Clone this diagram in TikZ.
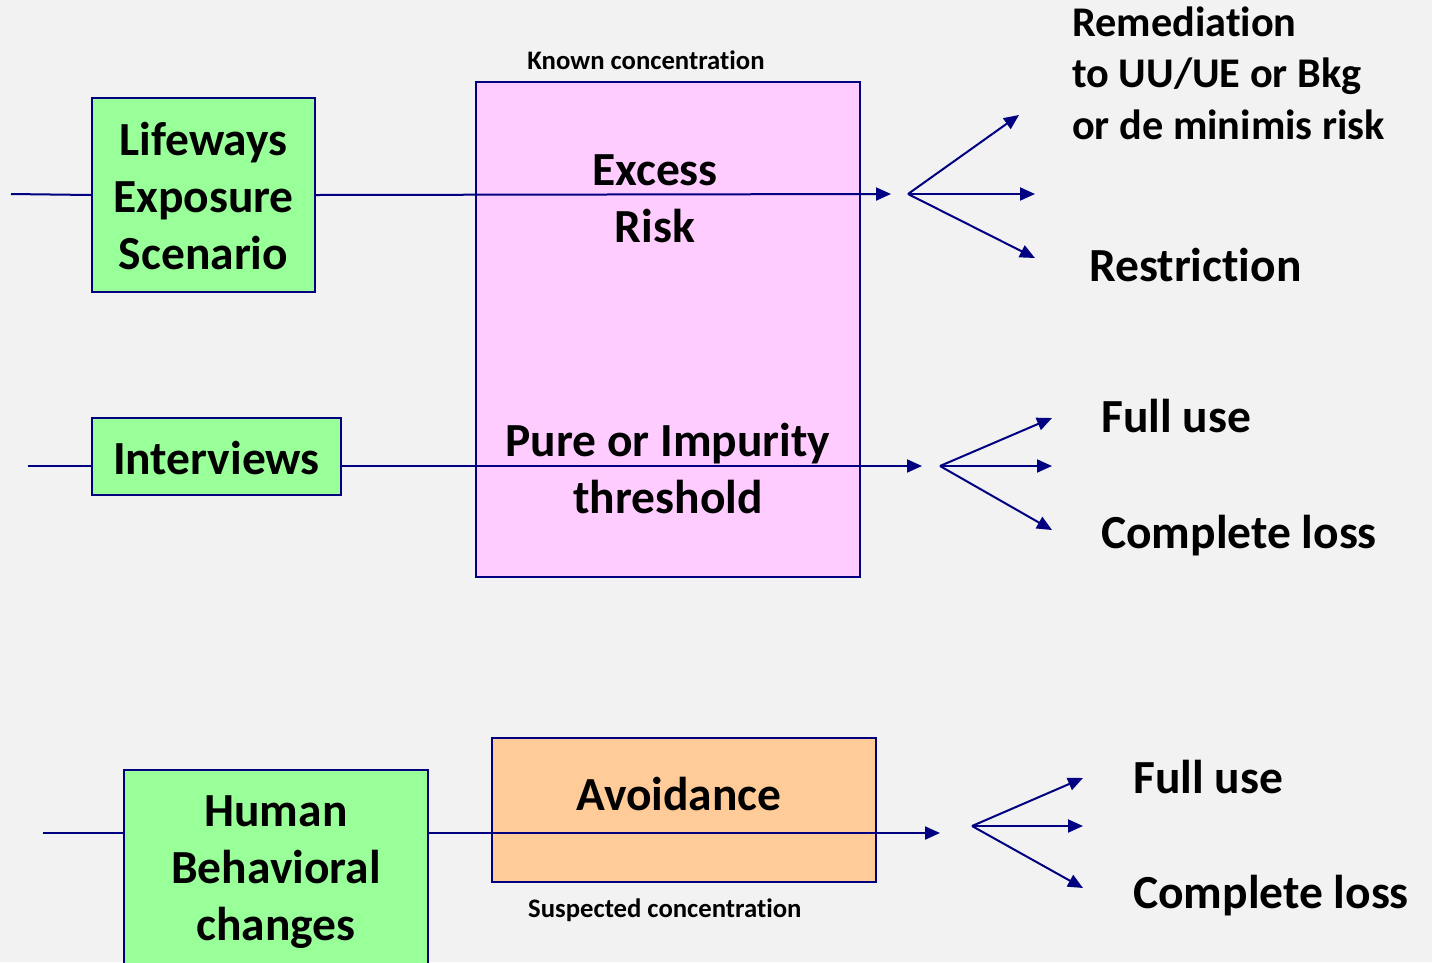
\documentclass[tikz,border=0pt]{standalone}
\usepackage{fontspec}
\setmainfont{Carlito}[Ligatures=NoCommon]
\usetikzlibrary{arrows.meta}
\definecolor{navy}{HTML}{000080}
\definecolor{boxgreen}{HTML}{99FF99}
\definecolor{boxpink}{HTML}{FFCCFF}
\definecolor{boxorange}{HTML}{FFCC99}
\definecolor{pagebg}{HTML}{F2F2F2}
\begin{document}
\begin{tikzpicture}[x=1pt,y=-1pt,
  box/.style={draw=navy,line width=2pt,inner sep=0pt},
  link/.style={draw=navy,line width=2pt},
  flow/.style={link,-{Triangle[length=15pt,width=13pt]}},
  big/.style={font=\bfseries\fontsize{47.5}{57}\selectfont,inner sep=0pt},
  mid/.style={font=\bfseries\fontsize{42.3}{51.5}\selectfont,inner sep=0pt},
  small/.style={font=\bfseries\fontsize{26.7}{31}\selectfont,inner sep=0pt}]
\useasboundingbox (0,0) rectangle (1432,962);
\clip (0,0) rectangle (1432,962);
\fill[pagebg] (0,0) rectangle (1432,962);

% boxes
\node[box,fill=boxgreen,minimum width=223,minimum height=194] (life) at (203.5,195) {};
\node[box,fill=boxpink,minimum width=384,minimum height=495] (conc) at (668,329.5) {};
\node[box,fill=boxgreen,minimum width=249,minimum height=77] (inter) at (216.5,456.5) {};
\node[box,fill=boxgreen,minimum width=304,minimum height=210] (human) at (276,875) {};
\node[box,fill=boxorange,minimum width=384,minimum height=144] (avoid) at (684,810) {};

% connector end points
\coordinate (in1) at (11,194);
\coordinate (out1) at (891,194);
\coordinate (f1) at (908,194);
\coordinate (in2) at (28,466);
\coordinate (out2) at (922,466);
\coordinate (f2) at (940,466);
\coordinate (in3) at (43,833);
\coordinate (out3) at (940,833);
\coordinate (f3) at (972,826);

% main lines
\draw[link] (in1) -- (life.west);
\draw[flow] (life.east) -- (out1);
\draw[link] (in2) -- (in2 -| inter.west);
\draw[flow] (in2 -| inter.east) -- (out2);
\draw[link] (in3) -- (in3 -| human.west);
\draw[flow] (in3 -| human.east) -- (out3);

% fans of outcomes
\draw[flow] (f1) -- (1019,115);
\draw[flow] (f1) -- (1035,194);
\draw[flow] (f1) -- (1035,258);
\draw[flow] (f2) -- (1052,418);
\draw[flow] (f2) -- (1052,466);
\draw[flow] (f2) -- (1052,530);
\draw[flow] (f3) -- (1083,778);
\draw[flow] (f3) -- (1083,826);
\draw[flow] (f3) -- (1083,888);

% texts (base anchor of a multi-line node sits on its last line)
\node[big,align=center,anchor=base] (tlife) at (203.5,269) {Lifeways\\Exposure\\Scenario};
\node[big,align=center,anchor=base] (texcess) at (655,242) {Excess\\Risk};
\node[big,anchor=base] (tinter) at (216.5,474) {Interviews};
\node[big,align=center,anchor=base] (tpure) at (668,513) {Pure or Impurity\\threshold};
\node[big,align=center,anchor=base] (thuman) at (276,940) {Human\\Behavioral\\changes};
\node[big,anchor=base] (tavoid) at (679,810) {Avoidance};
\node[small,anchor=base] (tknown) at (646,69) {Known concentration};
\node[small,anchor=base west] (tsusp) at (528,917) {Suspected concentration};
\node[mid,align=left,anchor=base west] (trem) at (1072,139) {Remediation\\to UU/UE or Bkg\\or de minimis risk};
\node[big,anchor=base west] (trestr) at (1089,281) {Restriction};
\node[big,anchor=base west] (tfull1) at (1101,432) {Full use};
\node[big,anchor=base west] (tloss1) at (1101,548) {Complete loss};
\node[big,anchor=base west] (tfull2) at (1133,793) {Full use};
\node[big,anchor=base west] (tloss2) at (1133,908) {Complete loss};
\end{tikzpicture}
\end{document}
